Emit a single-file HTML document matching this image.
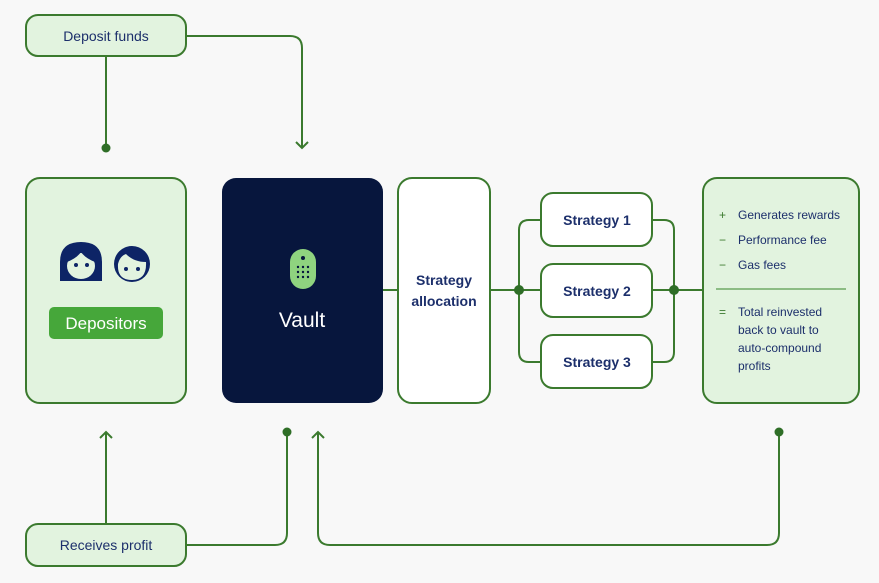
<!DOCTYPE html>
<html><head><meta charset="utf-8"><style>
html,body{margin:0;padding:0;background:#f8f8f8;}
svg{display:block;}
text{font-family:"Liberation Sans",sans-serif;fill:#1c2f6b;}
</style></head><body>
<svg width="879" height="583" viewBox="0 0 879 583" xmlns="http://www.w3.org/2000/svg">
<rect width="879" height="583" fill="#f8f8f8"/>
<g fill="none" stroke="#3b7a2e" stroke-width="2">
<!-- top connectors -->
<path d="M106 56 V148"/>
<path d="M186 36 H290 Q302 36 302 48 V148"/>
<path d="M296 142 L302 148 L308 142"/>
<!-- vault to alloc -->
<path d="M383 290 H398"/>
<path d="M490 290 H541"/>
<path d="M541 220 H529 Q519 220 519 230 V352 Q519 362 529 362 H541"/>
<path d="M652 220 H664 Q674 220 674 230 V352 Q674 362 664 362 H652"/>
<path d="M652 290 H703"/>
<!-- bottom -->
<path d="M106 524 V432"/>
<path d="M100 438 L106 432 L112 438"/>
<path d="M186 545 H275 Q287 545 287 533 V432"/>
<path d="M318 432 V533 Q318 545 330 545 H767 Q779 545 779 533 V432"/>
<path d="M312 438 L318 432 L324 438"/>
</g>
<g fill="#2f6e27">
<circle cx="106" cy="148" r="4.5"/>
<circle cx="519" cy="290" r="5"/>
<circle cx="674" cy="290" r="5"/>
<circle cx="287" cy="432" r="4.5"/>
<circle cx="779" cy="432" r="4.5"/>
</g>
<!-- boxes -->
<rect x="26" y="15" width="160" height="41" rx="12" fill="#e2f3df" stroke="#3b7a2e" stroke-width="2"/>
<text x="106" y="41" font-size="14" text-anchor="middle">Deposit funds</text>
<rect x="26" y="524" width="160" height="42" rx="12" fill="#e2f3df" stroke="#3b7a2e" stroke-width="2"/>
<text x="106" y="550" font-size="14" text-anchor="middle">Receives profit</text>

<rect x="26" y="178" width="160" height="225" rx="14" fill="#e2f3df" stroke="#3b7a2e" stroke-width="2"/>
<!-- woman -->
<path d="M60 281 V262 Q60 242 81 242 Q102 242 102 262 V281 Z" fill="#0d2466"/>
<ellipse cx="81" cy="266" rx="14" ry="13" fill="#e2f3df"/>
<path d="M67 262 Q70 250 81 250 Q92 250 95 262 Q85 258 81 252 Q77 258 67 262Z" fill="#0d2466"/>
<circle cx="76" cy="265" r="2" fill="#0d2466"/><circle cx="87" cy="265" r="2" fill="#0d2466"/>
<!-- boy -->
<circle cx="132" cy="264" r="18" fill="#0d2466"/>
<path d="M118 264 Q120 256 126 254 Q134 262 146 262 Q147 280 132 280 Q117 280 118 264Z" fill="#e2f3df"/>
<circle cx="126" cy="269" r="2" fill="#0d2466"/><circle cx="138" cy="269" r="2" fill="#0d2466"/>
<rect x="49" y="307" width="114" height="32" rx="5" fill="#46a73a"/>
<text x="106" y="329" font-size="17" text-anchor="middle" style="fill:#fff">Depositors</text>

<rect x="222" y="178" width="161" height="225" rx="14" fill="#07163d"/>
<rect x="290" y="249" width="26" height="40" rx="13" fill="#8fd37f"/>
<circle cx="303" cy="258" r="2" fill="#07163d"/>
<g fill="#07163d">
<circle cx="298" cy="267" r="1.2"/><circle cx="303" cy="267" r="1.2"/><circle cx="308" cy="267" r="1.2"/>
<circle cx="298" cy="272" r="1.2"/><circle cx="303" cy="272" r="1.2"/><circle cx="308" cy="272" r="1.2"/>
<circle cx="298" cy="277" r="1.2"/><circle cx="303" cy="277" r="1.2"/><circle cx="308" cy="277" r="1.2"/>
</g>
<text x="302" y="327" font-size="21" text-anchor="middle" style="fill:#fff">Vault</text>

<rect x="398" y="178" width="92" height="225" rx="14" fill="#fff" stroke="#3b7a2e" stroke-width="2"/>
<text x="444" y="285" font-size="14" font-weight="bold" text-anchor="middle">Strategy</text>
<text x="444" y="306" font-size="14" font-weight="bold" text-anchor="middle">allocation</text>

<g fill="#fff" stroke="#3b7a2e" stroke-width="2">
<rect x="541" y="193" width="111" height="53" rx="12"/>
<rect x="541" y="264" width="111" height="53" rx="12"/>
<rect x="541" y="335" width="111" height="53" rx="12"/>
</g>
<text x="597" y="225" font-size="14" font-weight="bold" text-anchor="middle">Strategy 1</text>
<text x="597" y="296" font-size="14" font-weight="bold" text-anchor="middle">Strategy 2</text>
<text x="597" y="367" font-size="14" font-weight="bold" text-anchor="middle">Strategy 3</text>

<rect x="703" y="178" width="156" height="225" rx="14" fill="#e2f3df" stroke="#3b7a2e" stroke-width="2"/>
<g font-size="12">
<text x="719" y="219" style="fill:#3b7a2e">+</text><text x="738" y="219">Generates rewards</text>
<text x="719" y="244" style="fill:#3b7a2e">−</text><text x="738" y="244">Performance fee</text>
<text x="719" y="269" style="fill:#3b7a2e">−</text><text x="738" y="269">Gas fees</text>
<text x="719" y="316" style="fill:#3b7a2e">=</text>
<text x="738" y="316">Total reinvested</text>
<text x="738" y="334">back to vault to</text>
<text x="738" y="352">auto-compound</text>
<text x="738" y="370">profits</text>
</g>
<line x1="716" y1="289" x2="846" y2="289" stroke="#5a9a4e" stroke-width="1.2"/>
</svg>
</body></html>
